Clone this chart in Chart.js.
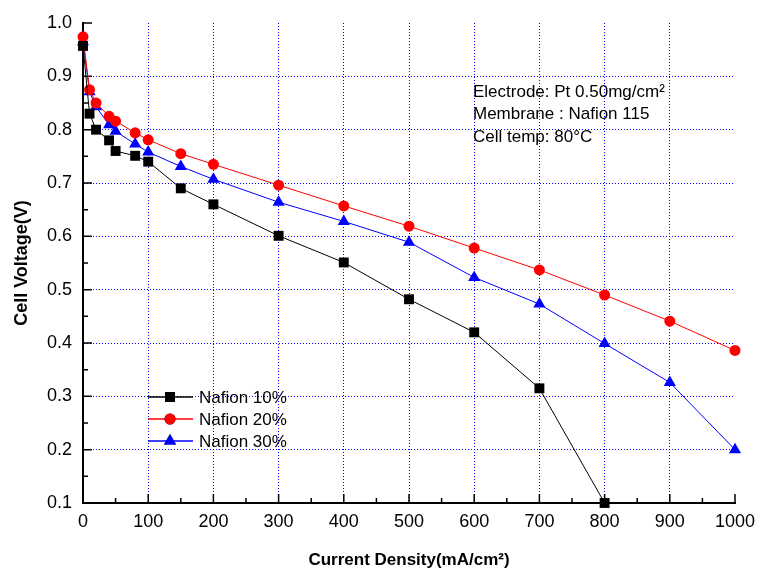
<!DOCTYPE html>
<html>
<head>
<meta charset="utf-8">
<script src="https://cdn.jsdelivr.net/npm/chart.js@4.4.1/dist/chart.umd.min.js"></script>
<style>
    body { margin: 0; background: #ffffff; }
    #wrap { width: 757px; height: 569px; }
</style>
</head>
<body>
<div id="wrap"><canvas id="myChart"></canvas></div>
<script>
// current density (mA/cm2)
const currentDensity = [0, 10, 20, 40, 50, 80, 100, 150, 200, 300, 400, 500, 600, 700, 800, 900, 1000];

// cell voltage (V) for each membrane
const nafion10 = [0.957, 0.83, 0.80, 0.78, 0.76, 0.751, 0.74, 0.69, 0.66, 0.601, 0.551, 0.482, 0.42, 0.315, 0.1];
const nafion20 = [0.974, 0.875, 0.85, 0.825, 0.816, 0.794, 0.781, 0.755, 0.735, 0.696, 0.657, 0.619, 0.578, 0.537, 0.49, 0.441, 0.386];
const nafion30 = [0.965, 0.871, 0.843, 0.809, 0.797, 0.773, 0.758, 0.731, 0.707, 0.664, 0.628, 0.589, 0.523, 0.473, 0.399, 0.326, 0.2];

const seriesNames = ['Nafion 10%', 'Nafion 20%', 'Nafion 30%'];
const noteLines = ['Electrode: Pt 0.50mg/cm²', 'Membrane : Nafion 115', 'Cell temp: 80°C'];

const xTitle = 'Current Density(mA/cm²)';
const yTitle = 'Cell Voltage(V)';

const toPoints = (values) => {
    let pts = [];
    for (let i = 0; i < values.length; i++) {
        pts.push({ x: currentDensity[i], y: values[i] });
    }
    return pts;
}

const FONT = 'Liberation Sans, Arial, sans-serif';

// inward major + minor ticks
const tickPlugin = {
    id: 'inTicks',
    beforeDatasetsDraw(chart) {
        const ctx = chart.ctx;
        const area = chart.chartArea;
        const xs = chart.scales.x;
        const ys = chart.scales.y;
        ctx.save();
        ctx.strokeStyle = '#000';
        ctx.lineWidth = 1.5;
        ctx.beginPath();
        xs.ticks.forEach((t, i) => {
            const px = xs.getPixelForValue(t.value);
            ctx.moveTo(px, area.bottom);
            ctx.lineTo(px, area.bottom - 9);
            if (i < xs.ticks.length - 1) {
                const mid = xs.getPixelForValue((t.value + xs.ticks[i + 1].value) / 2);
                ctx.moveTo(mid, area.bottom);
                ctx.lineTo(mid, area.bottom - 5);
            }
        });
        ys.ticks.forEach((t, i) => {
            const py = ys.getPixelForValue(t.value);
            ctx.moveTo(area.left, py);
            ctx.lineTo(area.left + 9, py);
            if (i < ys.ticks.length - 1) {
                const mid = ys.getPixelForValue((t.value + ys.ticks[i + 1].value) / 2);
                ctx.moveTo(area.left, mid);
                ctx.lineTo(area.left + 5, mid);
            }
        });
        ctx.stroke();
        ctx.restore();
    }
};

// legend inside plot + annotation text
const notePlugin = {
    id: 'notes',
    afterDraw(chart) {
        const ctx = chart.ctx;
        const area = chart.chartArea;
        ctx.save();
        ctx.font = '17px ' + FONT;
        ctx.fillStyle = '#000';
        ctx.textBaseline = 'middle';
        ctx.textAlign = 'left';

        // annotation
        let nx = area.left + 390;
        let ny = area.top + 69;
        noteLines.forEach((line, i) => {
            ctx.fillText(line, nx, ny + i * 22.5);
        });

        // legend
        let lx = area.left + 65;
        let ly = area.top + 374;
        chart.data.datasets.forEach((ds, i) => {
            const y = ly + i * 22;
            ctx.strokeStyle = ds.borderColor;
            ctx.lineWidth = 1.5;
            ctx.beginPath();
            ctx.moveTo(lx, y);
            ctx.lineTo(lx + 45, y);
            ctx.stroke();
            Chart.helpers.drawPoint(ctx, {
                pointStyle: ds.pointStyle,
                radius: ds.pointRadius,
                borderWidth: 0
            }, lx + 22, y);
            ctx.fillStyle = ds.pointBackgroundColor;
            ctx.fill();
            ctx.fillStyle = '#000';
            ctx.fillText(ds.label, lx + 51, y + 1);
        });
        ctx.restore();
    }
};

const ctx = document.getElementById('myChart');

const mychartView = new Chart(ctx, {
    type: 'line',
    data: {
        datasets: [{
            label: seriesNames[0],
            data: toPoints(nafion10),
            borderColor: '#000000',
            backgroundColor: '#000000',
            pointBackgroundColor: '#000000',
            pointBorderWidth: 0,
            pointStyle: 'rect',
            pointRadius: 7,
            borderWidth: 1,
            clip: false
        }, {
            label: seriesNames[1],
            data: toPoints(nafion20),
            borderColor: '#ff0000',
            backgroundColor: '#ff0000',
            pointBackgroundColor: '#ff0000',
            pointBorderWidth: 0,
            pointStyle: 'circle',
            pointRadius: 5.5,
            borderWidth: 1,
            clip: false
        }, {
            label: seriesNames[2],
            data: toPoints(nafion30),
            borderColor: '#0000ff',
            backgroundColor: '#0000ff',
            pointBackgroundColor: '#0000ff',
            pointBorderWidth: 0,
            pointStyle: 'triangle',
            pointRadius: 7,
            borderWidth: 1,
            clip: false
        }]
    },
    options: {
        responsive: true,
        maintainAspectRatio: false,
        animation: false,
        devicePixelRatio: 1,
        layout: {
            padding: { top: 23, right: 22, left: 0, bottom: 0 }
        },
        plugins: {
            legend: { display: false },
            tooltip: { enabled: false }
        },
        scales: {
            x: {
                type: 'linear',
                min: 0,
                max: 1000,
                afterFit: (scale) => {
                    scale.height = 66;
                    scale.paddingRight = 0;
                    scale.paddingLeft = 0;
                },
                ticks: {
                    stepSize: 100,
                    color: '#000',
                    padding: 8,
                    maxRotation: 0,
                    font: { family: FONT, size: 18 },
                    callback: (v) => String(v)
                },
                grid: {
                    drawTicks: false,
                    lineWidth: 1,
                    color: (c) => (c.index === 0 || c.tick.value === 1000) ? 'rgba(0,0,0,0)' : '#0000ff'
                },
                border: { display: true, color: '#000', width: 2, dash: [1, 2] },
                title: {
                    display: true,
                    text: xTitle,
                    color: '#000',
                    padding: { top: 0, bottom: 0 },
                    font: { family: FONT, size: 17, weight: 'bold', lineHeight: 1 }
                }
            },
            y: {
                type: 'linear',
                min: 0.1,
                max: 1.0,
                afterFit: (scale) => { scale.width = 83; },
                ticks: {
                    stepSize: 0.1,
                    color: '#000',
                    padding: 11,
                    font: { family: FONT, size: 18 },
                    callback: (v) => Number(v).toFixed(1)
                },
                grid: {
                    drawTicks: false,
                    lineWidth: 1,
                    color: (c) => (c.index === 0 || Math.abs(c.tick.value - 1.0) < 1e-6) ? 'rgba(0,0,0,0)' : '#0000ff'
                },
                border: { display: true, color: '#000', width: 2, dash: [1, 2] },
                title: {
                    display: true,
                    text: yTitle,
                    color: '#000',
                    padding: { top: 13, bottom: 0 },
                    font: { family: FONT, size: 18, weight: 'bold', lineHeight: 1 }
                }
            }
        }
    },
    plugins: [tickPlugin, notePlugin]
});
</script>
</body>
</html>
